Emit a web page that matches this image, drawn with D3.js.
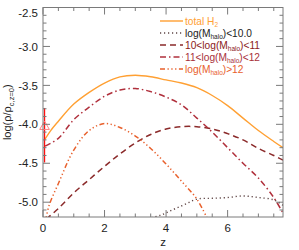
<!DOCTYPE html>
<html>
<head>
<meta charset="utf-8">
<script src="https://cdn.jsdelivr.net/npm/d3@7"></script>
<style>
  body { margin: 0; background: #fff; }
  text { font-family: "Liberation Sans", Arial, sans-serif; }
</style>
</head>
<body>
<div id="chart"></div>
<script>
// redshift / log density values
const zTotal    = [0.05, 0.25, 0.5, 1.0, 1.5, 2.0, 2.5, 3.0, 3.5, 4.0, 4.5, 5.0, 5.5, 6.0, 6.5, 7.0, 7.5, 7.8];
const vTotal    = [-4.2, -4.08, -3.96, -3.74, -3.59, -3.47, -3.39, -3.37, -3.39, -3.43, -3.47, -3.53, -3.63, -3.76, -3.92, -4.08, -4.22, -4.3];

const zLow      = [3.4, 3.8, 4.2, 4.6, 5.0, 5.5, 6.0, 6.5, 7.0, 7.5, 7.8];
const vLow      = [-5.21, -5.17, -5.1, -5.03, -4.96, -4.95, -4.94, -4.92, -4.94, -4.97, -5.04];

const zMid1     = [0.1, 0.5, 1.0, 1.5, 2.0, 2.5, 3.0, 3.5, 4.0, 4.5, 5.0, 5.5, 6.0, 6.5, 7.0, 7.5, 7.8];
const vMid1     = [-5.22, -5.08, -4.88, -4.71, -4.54, -4.38, -4.24, -4.13, -4.06, -4.03, -4.03, -4.06, -4.12, -4.2, -4.31, -4.4, -4.46];

const zMid2     = [0.07, 0.5, 1.0, 1.5, 2.0, 2.5, 3.0, 3.5, 4.0, 4.5, 5.0, 5.5, 6.0, 6.5, 7.0, 7.5, 7.8];
const vMid2     = [-4.28, -4.18, -3.94, -3.78, -3.64, -3.56, -3.54, -3.58, -3.65, -3.75, -3.92, -4.1, -4.3, -4.5, -4.69, -4.94, -5.14];

const zHigh     = [0.08, 0.2, 0.5, 1.0, 1.5, 2.0, 2.5, 3.0, 3.5, 4.0, 4.5, 5.0, 5.35];
const vHigh     = [-5.24, -5.04, -4.76, -4.33, -4.08, -3.99, -4.04, -4.15, -4.31, -4.51, -4.73, -4.96, -5.22];

// observational point at z~0
const obsZ = [0.05];
const obsV = [-4.03];
const obsLo = [-4.49];
const obsHi = [-3.79];

const xTicks = [0, 2, 4, 6];
const yTicks = [-2.5, -3.0, -3.5, -4.0, -4.5, -5.0];

const W = 299, H = 250;
const margin = { top: 7.5, right: 16, bottom: 33, left: 43 };
const x = d3.scaleLinear().domain([0, 7.8]).range([margin.left, W - margin.right]);
const y = d3.scaleLinear().domain([-5.19, -2.5]).range([H - margin.bottom, margin.top]);

const svg = d3.select("#chart").append("svg")
  .attr("width", W).attr("height", H);

svg.append("defs").append("clipPath").attr("id", "clip")
  .append("rect")
  .attr("x", x(0)).attr("y", y(-2.5))
  .attr("width", x(7.8) - x(0)).attr("height", y(-5.19) - y(-2.5));

const series = [
  { z: zTotal, v: vTotal, color: "#ffa033", dash: null, w: 1.4 },
  { z: zLow,   v: vLow,   color: "#5e4444", dash: "1.2,2.8", w: 1.4 },
  { z: zMid1,  v: vMid1,  color: "#8b2a2a", dash: "6,4", w: 1.5 },
  { z: zMid2,  v: vMid2,  color: "#b0303c", dash: "6,3,1.5,3", w: 1.5 },
  { z: zHigh,  v: vHigh,  color: "#e8602c", dash: "5,2.5,1.3,2.5,1.3,2.5,1.3,2.5", w: 1.5 }
];

const line = d3.line()
  .x(d => x(d[0]))
  .y(d => y(d[1]))
  .curve(d3.curveCatmullRom);

const plot = svg.append("g").attr("clip-path", "url(#clip)");

series.forEach(s => {
  plot.append("path")
    .datum(s.z.map((z, i) => [z, s.v[i]]))
    .attr("d", line)
    .attr("fill", "none")
    .attr("stroke", s.color)
    .attr("stroke-width", s.w)
    .attr("stroke-dasharray", s.dash);
});

// error bar + open triangle
svg.selectAll(".err").data(obsZ).enter().append("line")
  .attr("x1", d => x(d)).attr("x2", d => x(d))
  .attr("y1", (d, i) => y(obsLo[i])).attr("y2", (d, i) => y(obsHi[i]))
  .attr("stroke", "#ff1010").attr("stroke-width", 1.3);

svg.selectAll(".obs").data(obsZ).enter().append("path")
  .attr("d", d3.symbol().type(d3.symbolTriangle).size(40))
  .attr("transform", (d, i) => `translate(${x(d)},${y(obsV[i])})`)
  .attr("fill", "none").attr("stroke", "#ff8080").attr("stroke-width", 1);

// axes box with ticks on all sides, IDL style
const axisColor = "#7a7a7a";
const x0 = x(0), x1 = x(7.8), y0 = y(-5.19), y1 = y(-2.5);
svg.append("rect")
  .attr("x", x0).attr("y", y1).attr("width", x1 - x0).attr("height", y0 - y1)
  .attr("fill", "none").attr("stroke", axisColor).attr("stroke-width", 1);

const xMinor = d3.range(0, 7.8001, 0.5);
const yMinor = d3.range(-5.1, -2.49, 0.1);
const ticks = svg.append("g").attr("stroke", axisColor).attr("stroke-width", 1);

xMinor.forEach(t => {
  const len = xTicks.includes(Math.round(t * 10) / 10) ? 7 : 3.5;
  ticks.append("line").attr("x1", x(t)).attr("x2", x(t)).attr("y1", y0).attr("y2", y0 - len);
  ticks.append("line").attr("x1", x(t)).attr("x2", x(t)).attr("y1", y1).attr("y2", y1 + len);
});
yMinor.forEach(t => {
  const r = Math.round(t * 10) / 10;
  const len = yTicks.includes(r) ? 7 : 3.5;
  ticks.append("line").attr("x1", x0).attr("x2", x0 + len).attr("y1", y(r)).attr("y2", y(r));
  ticks.append("line").attr("x1", x1).attr("x2", x1 - len).attr("y1", y(r)).attr("y2", y(r));
});

// tick labels
svg.append("g").selectAll("text").data(xTicks).enter().append("text")
  .attr("x", d => x(d)).attr("y", y0 + 15)
  .attr("text-anchor", "middle").attr("font-size", 11.5).attr("fill", "#222")
  .text(d => d);

svg.append("g").selectAll("text").data(yTicks).enter().append("text")
  .attr("x", x0 - 5).attr("y", d => Math.max(y(d), 13))
  .attr("dy", "0.36em")
  .attr("text-anchor", "end").attr("font-size", 11.5).attr("fill", "#222")
  .text(d => d3.format(".1f")(d).replace("−", "-"));

// axis titles
svg.append("text")
  .attr("x", (x0 + x1) / 2).attr("y", 246)
  .attr("text-anchor", "middle").attr("font-size", 11.5).attr("fill", "#222")
  .text("z");

const yl = svg.append("text")
  .attr("transform", `translate(11,${(y0 + y1) / 2}) rotate(-90)`)
  .attr("text-anchor", "middle").attr("font-size", 11).attr("fill", "#222");
yl.append("tspan").text("log(ρ/ρ");
yl.append("tspan").attr("font-size", 7.5).attr("dy", 2.5).text("c,z=0");
yl.append("tspan").attr("dy", -2.5).text(")");

// legend
const legendLabels = [
  { main: "total H", sub: "2", tail: "", textColor: "#ffa033" },
  { main: "log(M", sub: "halo", tail: ")<10.0", textColor: "#222" },
  { main: "10<log(M", sub: "halo", tail: ")<11", textColor: "#8b2020" },
  { main: "11<log(M", sub: "halo", tail: ")<12", textColor: "#a8303a" },
  { main: "log(M", sub: "halo", tail: ")>12", textColor: "#e8602c" }
];

const legend = svg.append("g");
legendLabels.forEach((l, i) => {
  const by = 25 + i * 12;
  const s = series[i];
  legend.append("line")
    .attr("x1", 160).attr("x2", 183).attr("y1", by - 4).attr("y2", by - 4)
    .attr("stroke", s.color).attr("stroke-width", s.w)
    .attr("stroke-dasharray", s.dash);
  const t = legend.append("text")
    .attr("x", 185).attr("y", by)
    .attr("font-size", 10.2).attr("fill", l.textColor);
  t.append("tspan").text(l.main);
  t.append("tspan").attr("font-size", 6.5).attr("dy", 1.8).text(l.sub);
  if (l.tail) t.append("tspan").attr("dy", -1.8).text(l.tail);
});
</script>
</body>
</html>
